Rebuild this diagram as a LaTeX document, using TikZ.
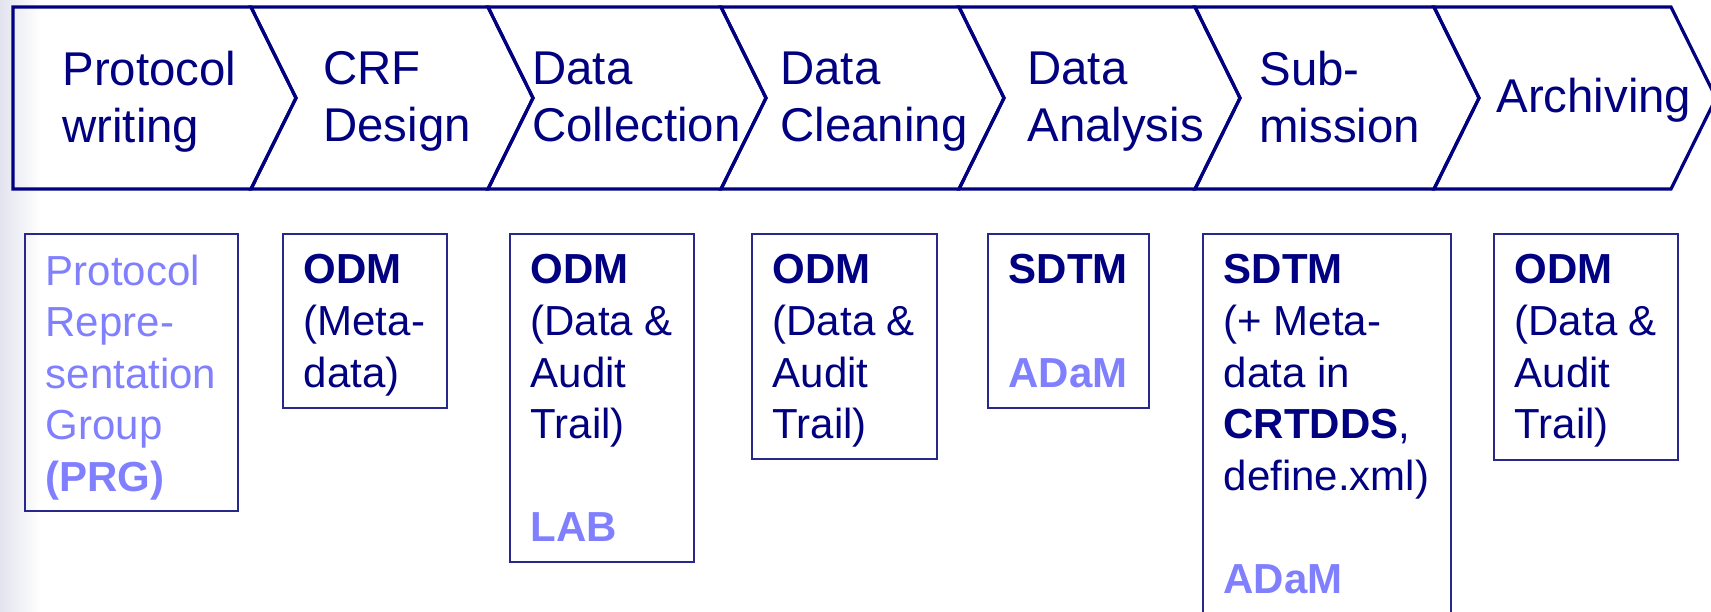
\documentclass[tikz,border=0pt]{standalone}
\usepackage{fontspec}
\setmainfont{Liberation Sans}
\usepackage{tikz}
\usetikzlibrary{calc, fit, positioning}
\definecolor{cdiscNavy}{RGB}{0,0,128}
\definecolor{cdiscLight}{RGB}{128,128,255}
\definecolor{boxEdge}{RGB}{40,40,140}
\definecolor{slideTint}{RGB}{226,227,238}
\tikzset{
    stageEdge/.style={draw=cdiscNavy, line width=1.6pt, line join=miter},
    stageText/.style={anchor=north west, align=left, inner sep=0pt, text=cdiscNavy, font=\fontsize{23.7}{28.5}\selectfont},
    artefactBox/.style={draw=boxEdge, line width=0.75pt, inner sep=0pt},
    artefactText/.style={anchor=north west, align=left, inner sep=0pt, text=cdiscNavy, font=\fontsize{21}{25.8}\selectfont},
}
% one chevron: left x, right x, depth of the notch on its left side
\newcommand{\drawStage}[3]{
    \draw[stageEdge] (#1,7) -- (#2,7) -- (#2+45,98) -- (#2,189) -- (#1,189) -- (#1+#3,98) -- cycle;
}
% one box under a stage, text set 21 units in from its corner
\newcommand{\drawArtefact}[5][]{
    \node[artefactBox, fit={(#3) (#4)}] (#2) {};
    \node[artefactText, #1] (#2Text) at ($(#2.north west)+(21,21)$) {#5};
}

\begin{document}
\begin{tikzpicture}[x=0.5pt, y=-0.5pt]
        \useasboundingbox (0,0) rectangle (1711,611);
        \clip (0,0) rectangle (1711,611);
        \shade[left color=slideTint, right color=white] (0,0) rectangle (40,611);

        \drawStage{13}{251}{0}
        \drawStage{251}{488}{45}
        \drawStage{488}{721}{45}
        \drawStage{721}{959}{45}
        \drawStage{959}{1195}{45}
        \drawStage{1195}{1434}{45}
        \drawStage{1434}{1671}{45}

        \node[stageText] (protocolStage) at (62,51) {Protocol\\writing};
        \node[stageText] (crfStage) at (323,51) {CRF\\Design};
        \node[stageText] (collectStage) at (532,51) {Data\\Collection};
        \node[stageText] (cleanStage) at (780,51) {Data\\Cleaning};
        \node[stageText] (analysisStage) at (1027,51) {Data\\Analysis};
        \node[stageText] (submitStage) at (1259,51) {Sub-\\mission};
        \node[stageText] (archiveStage) at (1496,78) {Archiving};

        \drawArtefact[text=cdiscLight]{prg}{25,234}{238,511}{Protocol\\Repre-\\sentation\\Group\\\textbf{(PRG)}}
        \drawArtefact{odmMeta}{283,234}{447,408}{\textbf{ODM}\\(Meta-\\data)}
        \drawArtefact{odmCollect}{510,234}{694,562}{\textbf{ODM}\\(Data \&\\Audit\\Trail)\\\mbox{}\\\textcolor{cdiscLight}{\textbf{LAB}}}
        \drawArtefact{odmClean}{752,234}{937,459}{\textbf{ODM}\\(Data \&\\Audit\\Trail)}
        \drawArtefact{sdtmAnalysis}{988,234}{1149,408}{\textbf{SDTM}\\\mbox{}\\\textcolor{cdiscLight}{\textbf{ADaM}}}
        \drawArtefact{sdtmSubmit}{1203,234}{1451,660}{\textbf{SDTM}\\(+ Meta-\\data in\\\textbf{CRTDDS},\\define.xml)\\\mbox{}\\\textcolor{cdiscLight}{\textbf{ADaM}}}
        \drawArtefact{odmArchive}{1494,234}{1678,460}{\textbf{ODM}\\(Data \&\\Audit\\Trail)}

    \end{tikzpicture}
\end{document}
